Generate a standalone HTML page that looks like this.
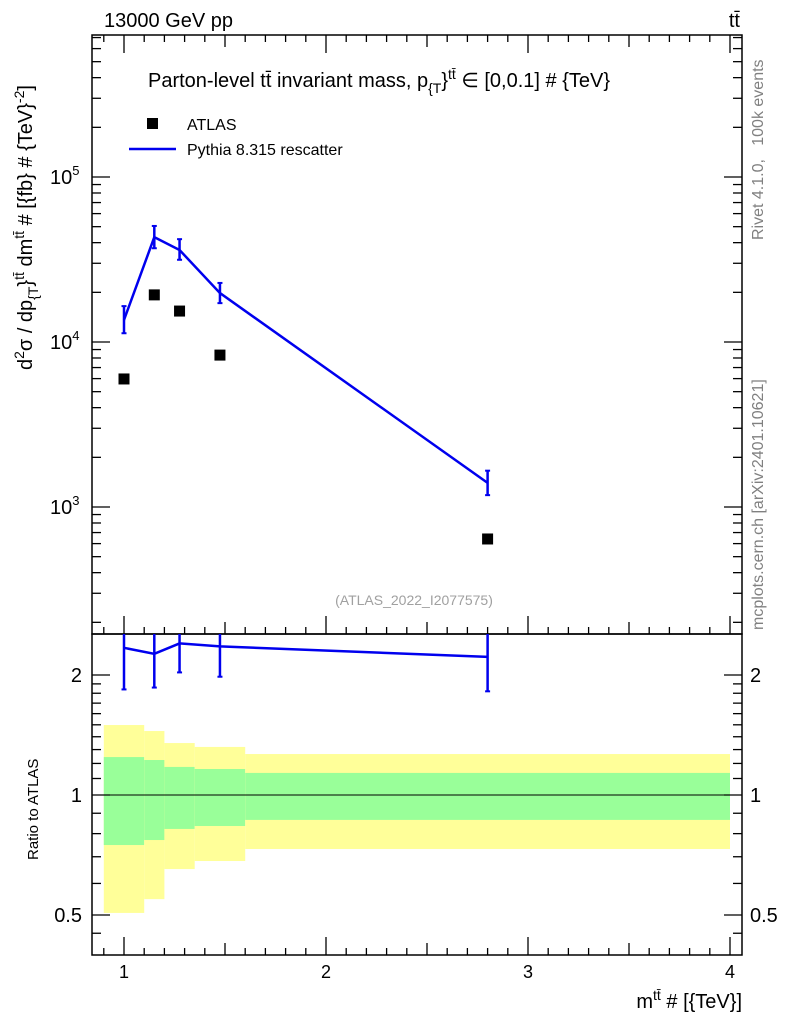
<!DOCTYPE html>
<html><head><meta charset="utf-8">
<style>
html,body{margin:0;padding:0;background:#fff;}
svg{display:block;font-family:"Liberation Sans",Arial,sans-serif;}
</style></head>
<body>
<svg id="chart" width="786" height="1024" viewBox="0 0 786 1024" xmlns="http://www.w3.org/2000/svg">
<g id="bands"></g>
<g id="ticks"></g>
<rect x="92" y="35" width="650" height="599" fill="none" stroke="#000" stroke-width="1.5"/>
<rect x="92" y="634" width="650" height="321" fill="none" stroke="#000" stroke-width="1.5"/>
<g id="marks"></g>
<text x="104" y="27" font-size="20">13000 GeV pp</text>
<text x="740" y="27" font-size="20" text-anchor="end">tt̄</text>
<text x="148" y="87" font-size="20">Parton-level tt̄ invariant mass, p<tspan font-size="14" dy="6">{T</tspan><tspan dy="-6">}</tspan><tspan font-size="14" dy="-8">tt̄</tspan><tspan dy="8"> ∈ [0,0.1] # {TeV}</tspan></text>
<rect x="147" y="118" width="11" height="11" fill="#000"/>
<text x="187" y="130" font-size="16">ATLAS</text>
<line x1="129" y1="149" x2="176" y2="149" stroke="#0000ee" stroke-width="2.5"/>
<text x="187" y="155" font-size="16">Pythia 8.315 rescatter</text>
<text x="414" y="605" font-size="14" fill="#a0a0a0" text-anchor="middle">(ATLAS_2022_I2077575)</text>
<text transform="translate(763,240) rotate(-90)" font-size="16" fill="#808080" style="white-space:pre">Rivet 4.1.0,   100k events</text>
<text transform="translate(763,630) rotate(-90)" font-size="16" fill="#808080">mcplots.cern.ch [arXiv:2401.10621]</text>
<text transform="translate(32,370) rotate(-90)" font-size="20">d<tspan font-size="14" dy="-8">2</tspan><tspan dy="8">σ / dp</tspan><tspan font-size="14" dy="6">{T</tspan><tspan dy="-6">}</tspan><tspan font-size="14" dy="-8">tt̄</tspan><tspan dy="8"> dm</tspan><tspan font-size="14" dy="-8">tt̄</tspan><tspan dy="8"> # [{fb} # {TeV}</tspan><tspan font-size="14" dy="-8">-2</tspan><tspan dy="8">]</tspan></text>
<text transform="translate(38,860) rotate(-90)" font-size="15">Ratio to ATLAS</text>
<text x="742" y="1008" font-size="20" text-anchor="end">m<tspan font-size="14" dy="-8">tt̄</tspan><tspan dy="8"> # [{TeV}]</tspan></text>
</svg>
<script>
const xVals = [1.0, 1.15, 1.275, 1.475, 2.8];
const atlasVals = [5970, 19300, 15400, 8330, 640];
const pythiaVals = [13600, 43200, 36100, 19800, 1400];
const pythiaErrUp = [16500, 50500, 42000, 22800, 1660];
const pythiaErrDn = [11300, 37000, 31500, 17200, 1180];
const ratioVals = [2.34, 2.26, 2.40, 2.36, 2.22];
const ratioErrDn = [1.84, 1.86, 2.03, 1.98, 1.82];
const ratioErrUp = [2.9, 2.8, 2.8, 2.75, 2.6];
const binEdges = [0.9, 1.1, 1.2, 1.35, 1.6, 4.0];
const yellowHi = [1.498, 1.447, 1.35, 1.32, 1.267];
const yellowLo = [0.506, 0.548, 0.652, 0.683, 0.732];
const greenHi = [1.245, 1.224, 1.176, 1.162, 1.136];
const greenLo = [0.749, 0.771, 0.822, 0.836, 0.866];
const xTicks = [1, 2, 3, 4];
const yTicks = [3, 4, 5];
const rTicks = [0.5, 1, 2];

const NS = "http://www.w3.org/2000/svg";
const X = v => 124 + (v - 1) * 202;
const Y = v => 342 - (Math.log10(v) - 4) * 165;
const R = v => 795 - Math.log2(v) * 120;
const clampR = y => Math.max(634, Math.min(955, y));
function mk(parent, tag, attrs) {
  const e = document.createElementNS(NS, tag);
  for (const k in attrs) e.setAttribute(k, attrs[k]);
  document.getElementById(parent).appendChild(e);
  return e;
}
for (let i = 0; i < yellowHi.length; i++) {
  const x0 = X(binEdges[i]), x1 = X(binEdges[i + 1]);
  const yb = mk('bands', 'rect', {x: x0, y: R(yellowHi[i]), width: x1 - x0, height: R(yellowLo[i]) - R(yellowHi[i]), fill: '#ffff99'});
  
  
  const gb = mk('bands', 'rect', {x: x0, y: R(greenHi[i]), width: x1 - x0, height: R(greenLo[i]) - R(greenHi[i]), fill: '#99ff99'});
  
  
}
const one = mk('bands', 'line', {x1: 92, x2: 742, y1: R(1), y2: R(1), stroke: '#000', 'stroke-width': 1});


function tk(x1, y1, x2, y2) { const t = mk('ticks', 'line', {x1, y1, x2, y2, stroke: '#000', 'stroke-width': 1.3});   }
for (let v = 0.9; v <= 4.001; v += 0.1) {
  const x = X(v); const major = Math.abs(v - Math.round(v)) < 1e-6; const half = Math.abs(v * 2 - Math.round(v * 2)) < 1e-6;
  const L = major ? 18 : (half ? 12 : 7);
  tk(x, 634, x, 634 - L); tk(x, 35, x, 35 + L); tk(x, 955, x, 955 - L);
}
xTicks.forEach(v => { const t = mk('ticks', 'text', {x: X(v), y: 978, 'font-size': 18, 'text-anchor': 'middle'}); t.textContent = v;   });
for (let d = 2; d <= 5; d++) for (let m = 1; m <= 9; m++) {
  const y = Y(m * Math.pow(10, d)); if (y < 35 || y > 634) continue;
  const L = m === 1 ? 18 : 9; tk(92, y, 92 + L, y); tk(742, y, 742 - L, y);
}
yTicks.forEach(d => { const t = mk('ticks', 'text', {x: 50, y: Y(Math.pow(10, d)) + 7, 'font-size': 20}); t.innerHTML = '10<tspan font-size="13" dy="-9">' + d + '</tspan>';   });
[0.5,0.6,0.7,0.8,0.9,1,2].forEach(v => { const y = R(v); const L = (v===0.5||v===1||v===2)?18:9; tk(92, y, 92 + L, y); tk(742, y, 742 - L, y); });
[0.45,1.1,1.2,1.3,1.4,1.5,1.6,1.7,1.8,1.9].forEach(v => { const y = R(v); if (y<634||y>955) return; tk(92, y, 101, y); tk(742, y, 733, y); });
rTicks.forEach(v => {
  const a = mk('ticks', 'text', {x: 82, y: R(v) + 7, 'font-size': 20, 'text-anchor': 'end'}); a.textContent = v;  
  const b = mk('ticks', 'text', {x: 750, y: R(v) + 7, 'font-size': 20}); b.textContent = v;  
});
const blue = '#0000ee';
const pl = mk('marks', 'polyline', {points: xVals.map((x, i) => X(x) + ',' + Y(pythiaVals[i])).join(' '), fill: 'none', stroke: blue, 'stroke-width': 2.5});


const rl = mk('marks', 'polyline', {points: xVals.map((x, i) => X(x) + ',' + R(ratioVals[i])).join(' '), fill: 'none', stroke: blue, 'stroke-width': 2.5});


xVals.forEach((x, i) => {
  const e = mk('marks', 'line', {x1: X(x), x2: X(x), y1: Y(pythiaErrUp[i]), y2: Y(pythiaErrDn[i]), stroke: blue, 'stroke-width': 2.5});
  
  
  [pythiaErrUp[i], pythiaErrDn[i]].forEach(v => { const c = mk('marks', 'line', {x1: X(x) - 2.5, x2: X(x) + 2.5, y1: Y(v), y2: Y(v), stroke: blue, 'stroke-width': 2});   });
  const re = mk('marks', 'line', {x1: X(x), x2: X(x), y1: clampR(R(ratioErrUp[i])), y2: clampR(R(ratioErrDn[i])), stroke: blue, 'stroke-width': 2.5});
  
  
  const rc = mk('marks', 'line', {x1: X(x) - 2.5, x2: X(x) + 2.5, y1: R(ratioErrDn[i]), y2: R(ratioErrDn[i]), stroke: blue, 'stroke-width': 2});
  
  
  const m = mk('marks', 'rect', {x: X(x) - 5.5, y: Y(atlasVals[i]) - 5.5, width: 11, height: 11, fill: '#000'});
  
  
});
</script>
</body></html>
